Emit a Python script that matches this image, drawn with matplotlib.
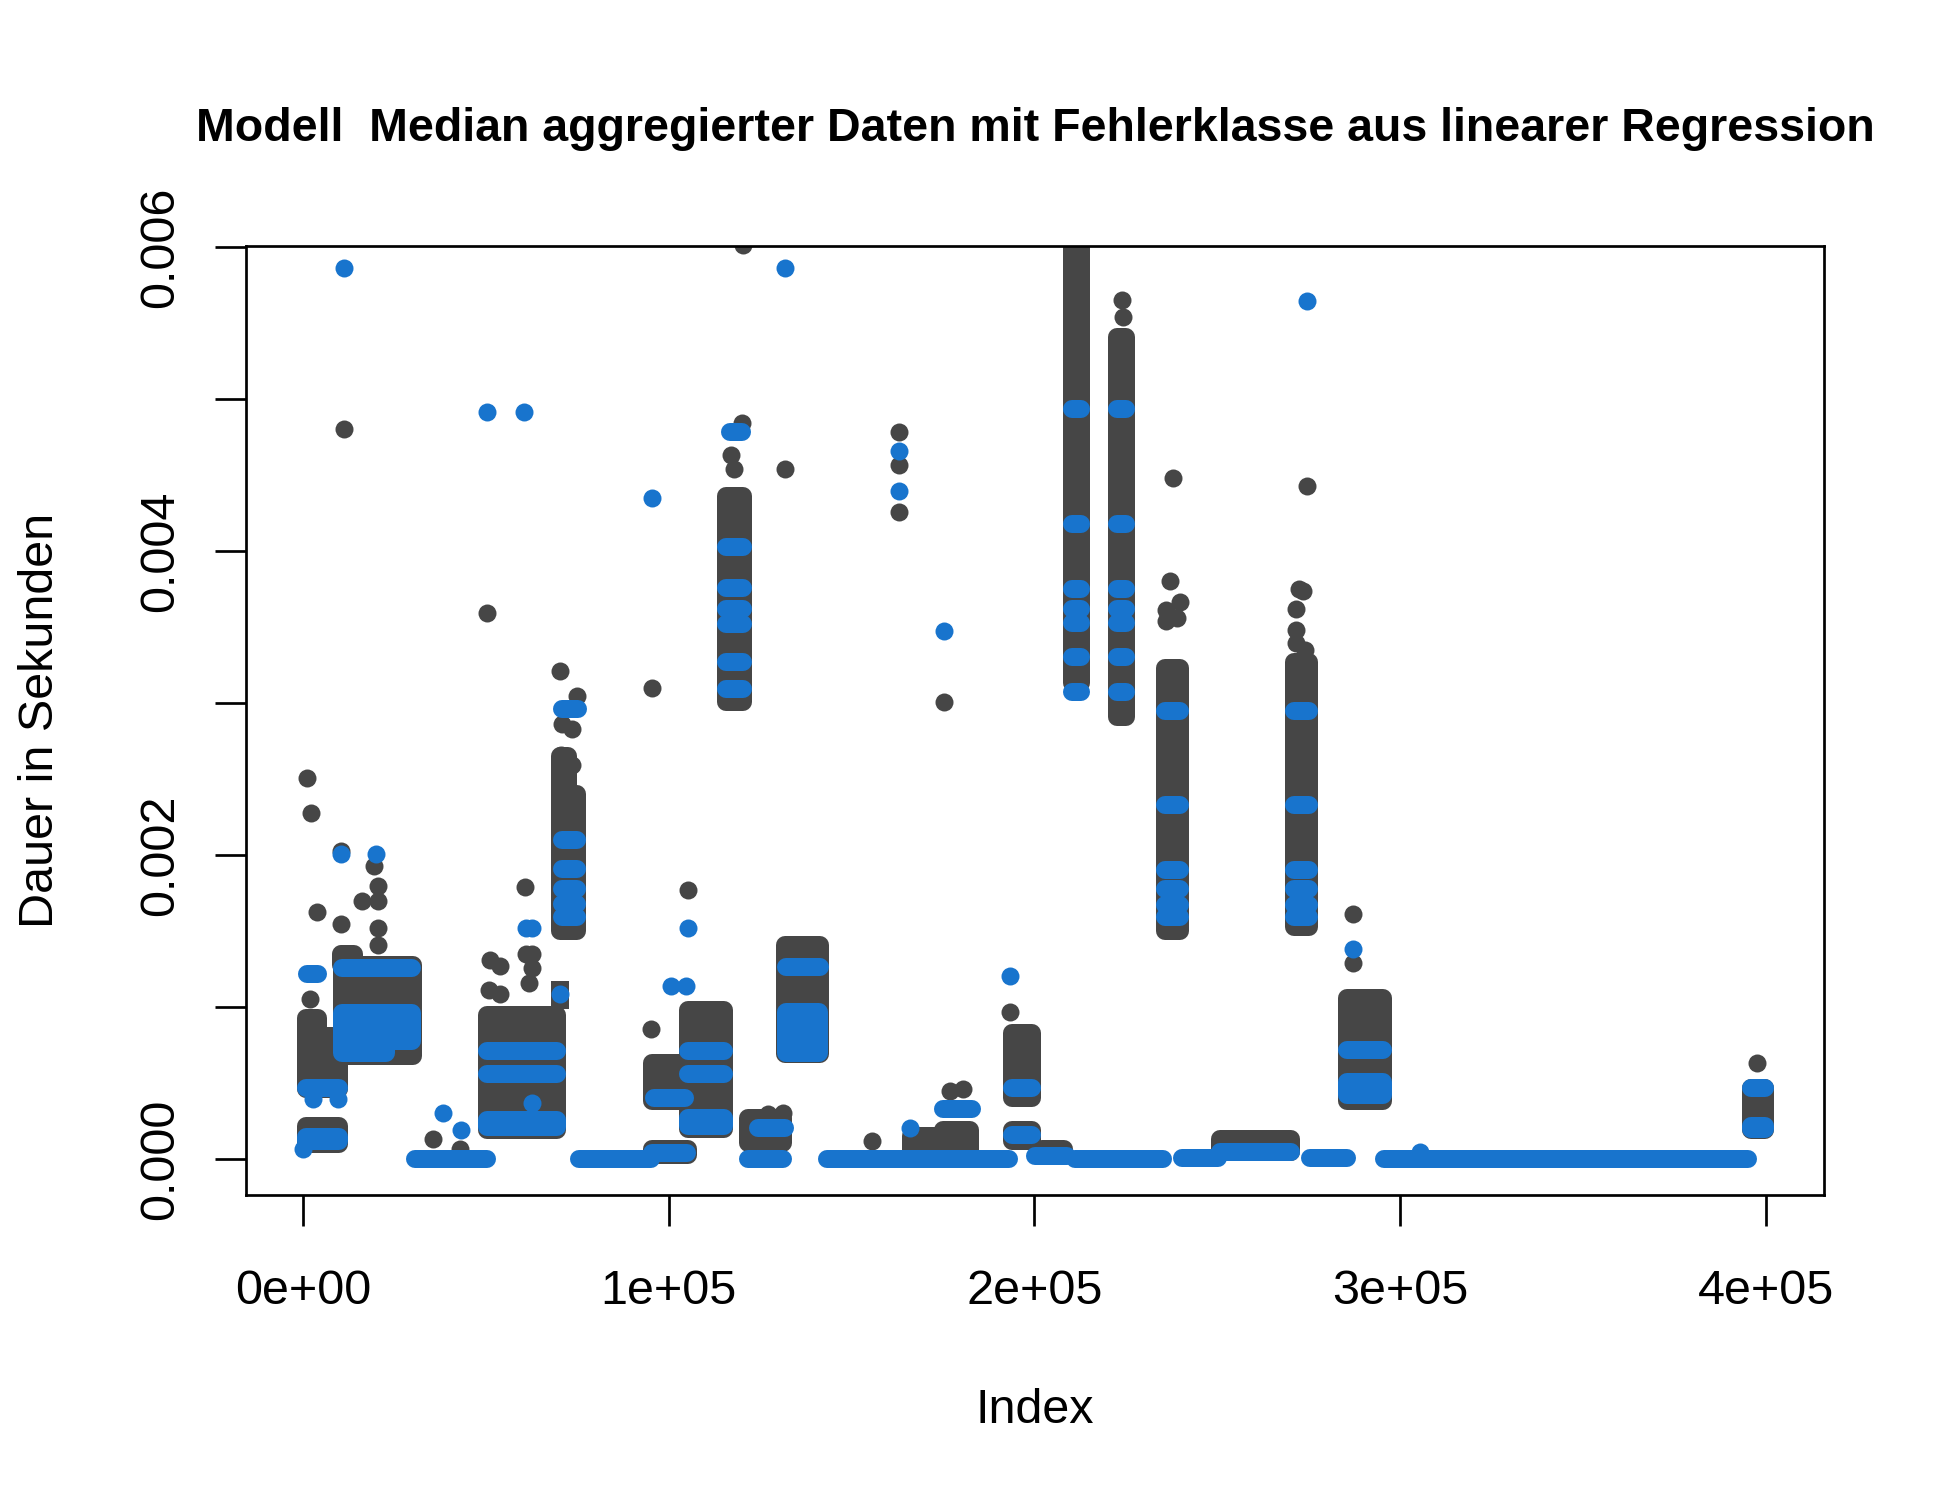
import matplotlib
matplotlib.use("Agg")
import matplotlib.pyplot as plt
from matplotlib.patches import Rectangle

# ---------------- data ----------------
title = "Modell  Median aggregierter Daten mit Fehlerklasse aus linearer Regression"
x_label = "Index"
y_label = "Dauer in Sekunden"
x_ticks = [0, 100000, 200000, 300000, 400000]
x_tick_labels = ["0e+00", "1e+05", "2e+05", "3e+05", "4e+05"]
y_ticks = [0.000, 0.001, 0.002, 0.003, 0.004, 0.005, 0.006]
y_tick_labels = ["0.000", "", "0.002", "", "0.004", "", "0.006"]

# dense regions of observed values (grey): index range and value range
gray_box_x0 = [700, 700, 700, 10600, 10400, 50300, 70400, 70400, 70200, 95400, 95400,
               105300, 115600, 121800, 131700, 166400, 175100, 193800, 193800, 202000,
               210400, 222700, 235700, 250900, 271000, 285600, 396100]
gray_box_x1 = [9900, 4000, 9900, 30000, 14000, 69400, 75000, 72500, 70200, 105200, 105200,
               115000, 120400, 131400, 141500, 172700, 182500, 199400, 199400, 208000,
               212800, 225100, 239800, 270100, 275100, 295400, 399800]
gray_box_y0 = [0.00046, 0.00081, 0.00010, 0.00068, 0.00128, 0.00019, 0.00150, 0.00240, 0.00099, 0.00038, 0.00003,
               0.00020, 0.00301, 0.00011, 0.00069, 0.00005, 0.00003, 0.00040, 0.00012, 0.00003,
               0.00313, 0.00291, 0.00150, 0.00005, 0.00153, 0.00038, 0.00019]
gray_box_y1 = [0.00081, 0.00093, 0.00022, 0.00128, 0.00135, 0.00095, 0.00240, 0.00265, 0.00117, 0.00063, 0.00007,
               0.00098, 0.00436, 0.00027, 0.00141, 0.00015, 0.00019, 0.00083, 0.00019, 0.00007,
               0.00620, 0.00541, 0.00323, 0.00013, 0.00327, 0.00106, 0.00047]

# isolated observed values (grey)
gray_pt_x = [1100, 2100, 3700, 1900, 1100, 11200,
             10400, 16100, 20600, 20400, 19500, 20600, 20500, 10300, 10400,
             35600, 42900,
             51100, 53800, 51000, 53800, 60700, 61000, 62500, 61700, 62500, 50300,
             70300, 75000, 70800, 73500, 70600, 73500,
             95300, 95400, 105300,
             120000, 117000, 118000, 120400,
             127100, 131200, 131800,
             155600, 176800, 180400,
             163000, 163000, 163000, 175300,
             193400,
             224000, 224300,
             237800, 237200, 239800, 236000, 239000, 236000,
             274600, 272500, 273500, 271500, 271500, 271500, 274000,
             287200, 287200,
             397500]
gray_pt_y = [0.00251, 0.002275, 0.001626, 0.001056, 0.00093, 0.00480,
             0.00155, 0.00170, 0.00170, 0.00180, 0.00193, 0.00152, 0.00141, 0.00135, 0.00203,
             0.000134, 0.000064,
             0.00131, 0.00127, 0.00111, 0.00109, 0.00179, 0.00135, 0.00135, 0.00116, 0.00126, 0.003593,
             0.00321, 0.00305, 0.00286, 0.00283, 0.00266, 0.00259,
             0.000856, 0.003098, 0.00177,
             0.00484, 0.00463, 0.00454, 0.00601,
             0.000295, 0.000306, 0.004543,
             0.000119, 0.000449, 0.00046,
             0.004782, 0.004565, 0.004257, 0.003009,
             0.000966,
             0.005653, 0.00554,
             0.00448, 0.00380, 0.003667, 0.00361, 0.00356, 0.00354,
             0.004427, 0.00375, 0.00374, 0.00362, 0.003484, 0.003395, 0.00335,
             0.00161, 0.00129,
             0.000632]

# model values (blue): horizontal runs of equal predicted value
level_a = [0.004933, 0.00418, 0.003751, 0.003617, 0.003529, 0.003301, 0.003071]
level_b = [0.002948, 0.00233, 0.00190, 0.00178, 0.00167, 0.00159]
blue_run_x0 = ([700, 1000, 10600, 30500, 50300, 50300,
                70700, 70700, 70700, 70700, 70700, 70700,
                75400, 95900, 105300, 105300, 95400,
                116700, 115600, 115600, 115600, 115600, 115600, 115600,
                121800, 124400, 132000, 143200, 175100, 193800, 193800, 200100, 211000]
               + [210400] * 7 + [222700] * 7 + [235700] * 6 + [271000] * 6
               + [240400, 250900, 275500, 285600, 295600, 396100])
blue_run_x1 = ([9900, 4200, 29700, 50200, 69400, 69400,
                75000, 75000, 75000, 75000, 75000, 75300,
                95100, 104600, 115000, 115000, 105100,
                120000, 120400, 120400, 120400, 120400, 120400, 120400,
                131400, 131700, 141300, 193000, 183000, 199400, 199400, 208900, 235100]
               + [212800] * 7 + [225100] * 7 + [239800] * 6 + [275100] * 6
               + [250200, 270100, 285500, 295400, 395200, 399800])
blue_run_y = ([0.00047, 0.00122, 0.00126, 0.0, 0.000713, 0.000559,
               0.0021, 0.00191, 0.00178, 0.00168, 0.00159, 0.00296,
               0.0, 0.000405, 0.000713, 0.000559, 0.00004,
               0.00478, 0.00403, 0.00376, 0.00362, 0.00352, 0.00327, 0.00309,
               0.0, 0.000207, 0.001263, 0.0, 0.000328, 0.00047, 0.00016, 0.00002, 0.0]
              + level_a + level_a + level_b + level_b
              + [0.00001, 0.00005, 0.000005, 0.00072, 0.0, 0.000467])

# model values (blue): dense blocks of several close levels
blue_box_x0 = [700, 10600, 10600, 50300, 105300, 132000, 285600, 396100]
blue_box_x1 = [9900, 29700, 22700, 69400, 115000, 141000, 295400, 399800]
blue_box_y0 = [0.00012, 0.00078, 0.00070, 0.00021, 0.00022, 0.00070, 0.00042, 0.00020]
blue_box_y1 = [0.000145, 0.00096, 0.00078, 0.00026, 0.00027, 0.00097, 0.00051, 0.00022]

# isolated model values (blue)
blue_pt_x = [11200, 10400, 20000, 2800, 9700, 0,
             38300, 43100,
             62500, 61100, 62500, 50300, 60400,
             70200,
             100700, 104800, 105300, 95400,
             131800, 166100, 163000, 163000, 175300,
             193400, 274600, 287200, 305400]
blue_pt_y = [0.005864, 0.002007, 0.002007, 0.000395, 0.000395, 0.00007,
             0.000306, 0.000191,
             0.000372, 0.00152, 0.00152, 0.004917, 0.004917,
             0.00109,
             0.00114, 0.00114, 0.00152, 0.00435,
             0.005864, 0.000207, 0.004659, 0.004398, 0.003473,
             0.001208, 0.005642, 0.001384, 0.00005]

# ---------------- drawing ----------------
W, H, DPI = 1950, 1500, 150
plt.rcParams['font.family'] = ['Liberation Sans', 'DejaVu Sans']
GRAY = "#464646"
BLUE = "#1874CD"
D = 18 / DPI * 72          # dot diameter in points

fig = plt.figure(figsize=(W / DPI, H / DPI), dpi=DPI)
ax = fig.add_axes([246 / W, 1 - 1194.5 / H, (1824 - 246) / W, (1194.5 - 245.6) / H])
ax.set_xlim(-15588, 415943)
ax.set_ylim(-0.000232, 0.0060093)

for x0, x1, y0, y1 in zip(gray_box_x0, gray_box_x1, gray_box_y0, gray_box_y1):
    ax.add_patch(Rectangle((x0, y0), x1 - x0, y1 - y0, facecolor=GRAY, edgecolor=GRAY,
                           linewidth=D, joinstyle='round', zorder=2))
ax.scatter(gray_pt_x, gray_pt_y, s=D ** 2, color=GRAY, linewidths=0, zorder=2)

for x0, x1, y0, y1 in zip(blue_box_x0, blue_box_x1, blue_box_y0, blue_box_y1):
    ax.add_patch(Rectangle((x0, y0), x1 - x0, y1 - y0, facecolor=BLUE, edgecolor=BLUE,
                           linewidth=D, joinstyle='round', zorder=3))
ax.hlines(blue_run_y, blue_run_x0, blue_run_x1, colors=BLUE, linewidth=D,
          capstyle='round', zorder=3)
ax.scatter(blue_pt_x, blue_pt_y, s=D ** 2, color=BLUE, linewidths=0, zorder=3)

# axes styling (R base graphics look)
for sp in ax.spines.values():
    sp.set_linewidth(1.3)
    sp.set_color("black")
ax.set_xticks(x_ticks)
ax.set_xticklabels(x_tick_labels)
ax.set_yticks(y_ticks)
ax.set_yticklabels(y_tick_labels)
ax.tick_params(axis='both', direction='out', length=14.9, width=1.3,
               labelsize=23.3, colors='black')
ax.tick_params(axis='x', pad=20.9)
ax.tick_params(axis='y', pad=15.4, labelrotation=90)
for lab in ax.get_yticklabels():
    lab.set_verticalalignment('center')

fig.text(1035 / W, 1 - 141 / H, title, ha='center', va='baseline',
         fontsize=22.3, fontweight='bold')
fig.text(1035 / W, 1 - 1423 / H, x_label, ha='center', va='baseline', fontsize=23.3)
fig.text(53 / W, 1 - 720 / H, y_label, rotation=90, rotation_mode='anchor',
         ha='center', va='baseline', fontsize=23.3)

fig.savefig("out.png", dpi=DPI)
